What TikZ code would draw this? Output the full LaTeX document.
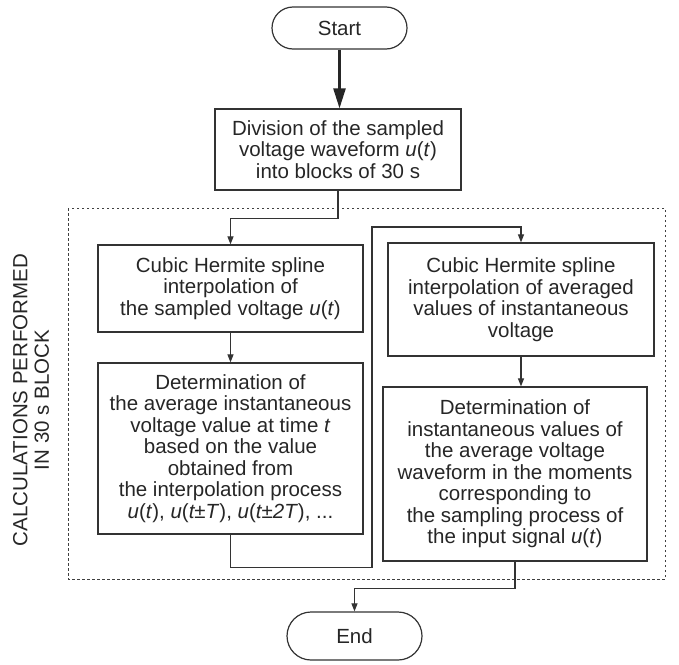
\documentclass[tikz,border=0pt]{standalone}
\usepackage{fontspec}
\setmainfont{Liberation Sans}
\usetikzlibrary{arrows.meta}
\newcommand{\uft}{\textit{u}(\textit{t})}
\tikzstyle{box} = [draw=black!80,line width=1.2pt,align=center,inner sep=0pt,text=black!85,font=\fontsize{20.5}{21.5}\selectfont]
\tikzstyle{term} = [box,minimum width=135pt]
\tikzstyle{conn} = [draw=black!80,line width=1.1pt,-{Triangle[length=8pt,width=6pt]}]

\begin{document}
\begin{tikzpicture}[x=1pt,y=-1pt,frame/.style={draw=black!75,line width=1pt,dash pattern=on 2.5pt off 2.5pt},post/.style={draw=black!85,line width=2.4pt,-{Triangle[length=20pt,width=12pt]}}]
    \useasboundingbox (0,0) rectangle (679,664);

    \draw[frame] (68,208) rectangle (665,579);

    \node[term,rounded corners=21pt,minimum height=42pt] (start) at (339.5,28) {Start};
    \node[box,minimum width=246pt,minimum height=81pt] (div) at (338,149.5) {Division of the sampled\\voltage waveform \uft\\into blocks of 30 s};
    \node[box,minimum width=265pt,minimum height=87pt] (calc1) at (230.5,288.5) {Cubic Hermite spline\\interpolation of\\the sampled voltage \uft};
    \node[box,minimum width=265pt,minimum height=171pt] (calc2) at (230.5,448.5) {Determination of\\the average instantaneous\\voltage value at time \textit{t}\\based on the value\\obtained from\\the interpolation process\\\uft, \textit{u}(\textit{t±T}), \textit{u}(\textit{t±2T}), ...};
    \node[box,minimum width=266pt,minimum height=113pt] (interp) at (521,299.5) {Cubic Hermite spline\\interpolation of averaged\\values of instantaneous\\voltage};
    \node[box,minimum width=264pt,minimum height=174pt] (moments) at (515,474) {Determination of\\instantaneous values of\\the average voltage\\waveform in the moments\\corresponding to\\the sampling process of\\the input signal \uft};
    \node[term,rounded corners=24pt,minimum height=48pt] (end) at (354.5,636) {End};
    \node[box,draw=none,rotate=90] (blocklab) at (31,400) {CALCULATIONS PERFORMED\\IN 30 s BLOCK};

    \draw[post] (start.south) -- (start.south |- div.north);
    \draw[conn] (div.south) -- ++(0,28) -| (calc1.north);
    \draw[conn] (calc1) -- (calc2);
    \draw[conn] (calc2.south) -- ++(0,33) -| (372,227) -| (interp.north);
    \draw[conn] (interp.south) -- (interp.south |- moments.north);
    \draw[conn] (moments.south) -- ++(0,27) -| (end.north);

\end{tikzpicture}
\end{document}
